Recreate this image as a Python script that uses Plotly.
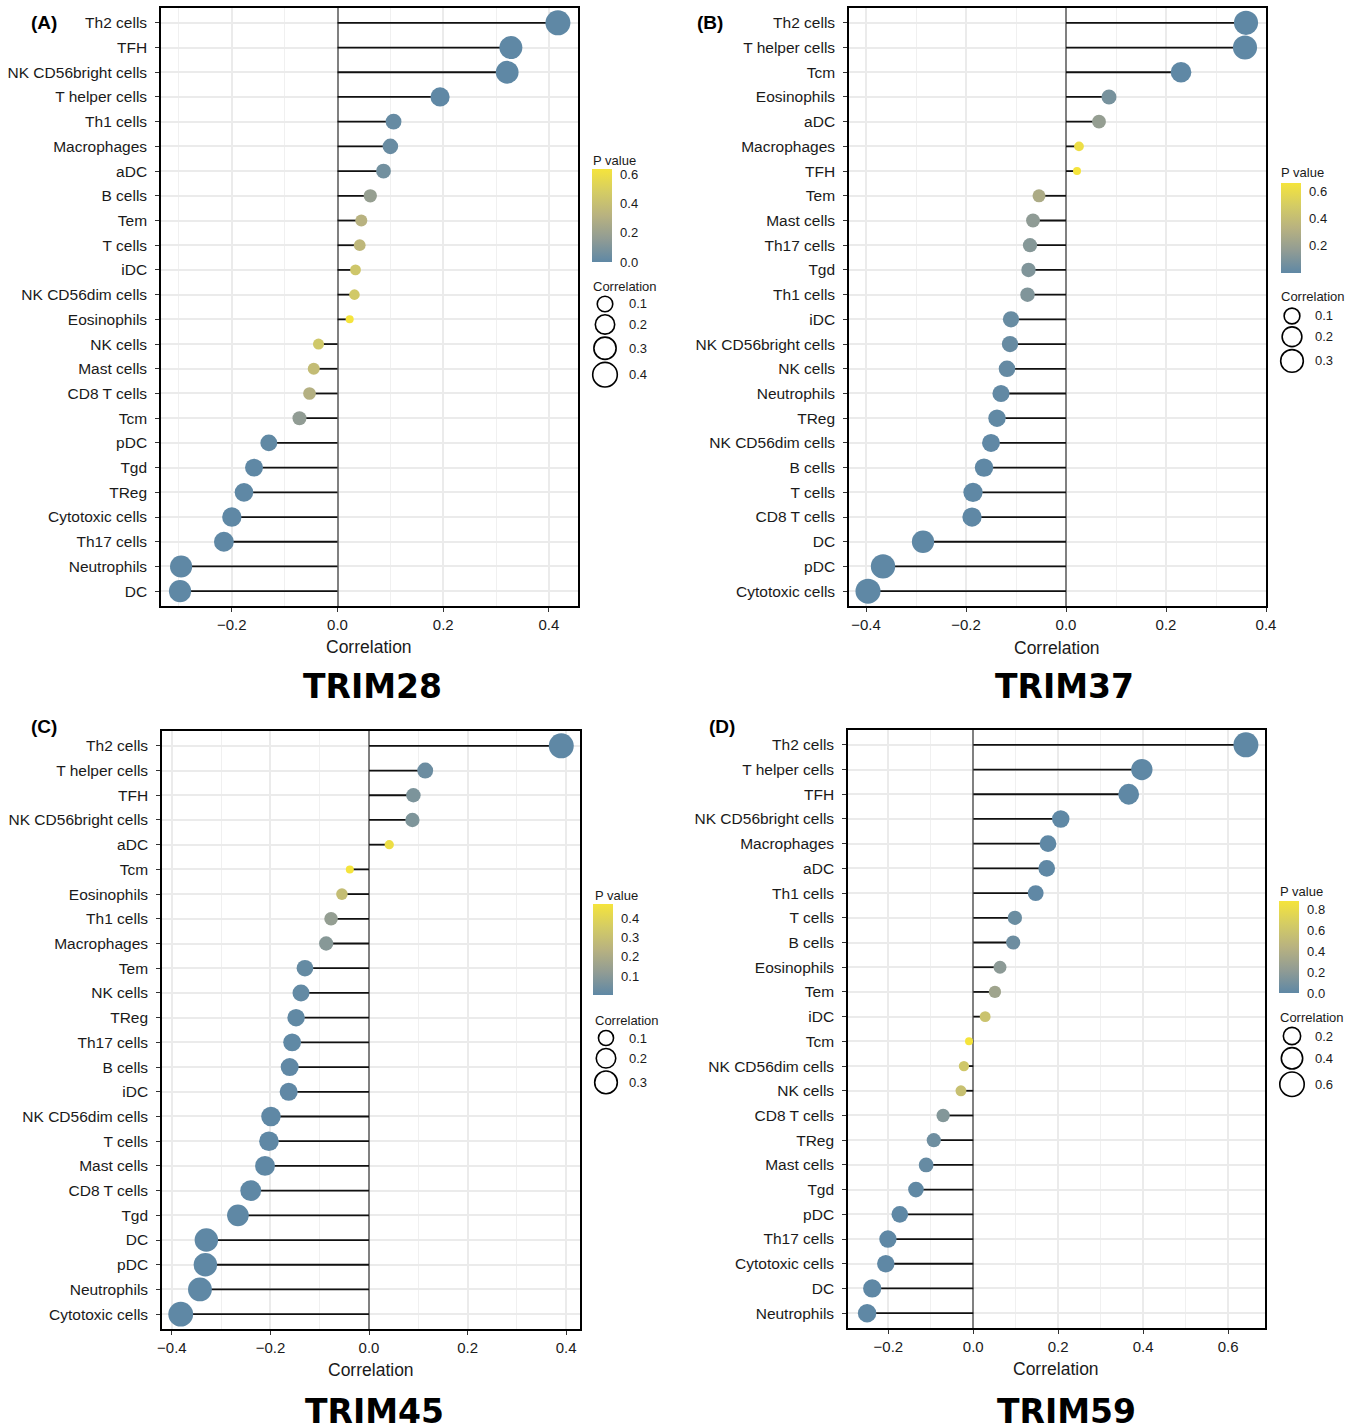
import numpy as np
import plotly.graph_objects as go

W, H = 1354, 1427

# ---------------- data ----------------
genes = ["TRIM28", "TRIM37", "TRIM45", "TRIM59"]
letters = ["(A)", "(B)", "(C)", "(D)"]

cells_A = ["Th2 cells", "TFH", "NK CD56bright cells", "T helper cells", "Th1 cells", "Macrophages",
           "aDC", "B cells", "Tem", "T cells", "iDC", "NK CD56dim cells", "Eosinophils", "NK cells",
           "Mast cells", "CD8 T cells", "Tcm", "pDC", "Tgd", "TReg", "Cytotoxic cells", "Th17 cells",
           "Neutrophils", "DC"]
cor_A = [0.417, 0.328, 0.321, 0.194, 0.106, 0.100, 0.087, 0.062, 0.045, 0.042, 0.034, 0.032, 0.023,
         -0.036, -0.045, -0.053, -0.072, -0.130, -0.158, -0.177, -0.200, -0.215, -0.296, -0.298]
p_A = [0.0, 0.0, 0.0, 0.0, 0.022, 0.031, 0.060, 0.180, 0.320, 0.350, 0.440, 0.460, 0.635,
       0.450, 0.380, 0.300, 0.160, 0.005, 0.001, 0.0, 0.0, 0.0, 0.0, 0.0]

cells_B = ["Th2 cells", "T helper cells", "Tcm", "Eosinophils", "aDC", "Macrophages", "TFH", "Tem",
           "Mast cells", "Th17 cells", "Tgd", "Th1 cells", "iDC", "NK CD56bright cells", "NK cells",
           "Neutrophils", "TReg", "NK CD56dim cells", "B cells", "T cells", "CD8 T cells", "DC", "pDC",
           "Cytotoxic cells"]
cor_B = [0.360, 0.358, 0.230, 0.086, 0.066, 0.026, 0.022, -0.054, -0.066, -0.072, -0.075, -0.077,
         -0.110, -0.112, -0.118, -0.130, -0.138, -0.150, -0.164, -0.186, -0.188, -0.286, -0.366, -0.396]
p_B = [0.0, 0.0, 0.0, 0.080, 0.180, 0.620, 0.660, 0.280, 0.160, 0.130, 0.110, 0.110,
       0.030, 0.025, 0.020, 0.010, 0.005, 0.002, 0.001, 0.0, 0.0, 0.0, 0.0, 0.0]

cells_C = ["Th2 cells", "T helper cells", "TFH", "NK CD56bright cells", "aDC", "Tcm", "Eosinophils",
           "Th1 cells", "Macrophages", "Tem", "NK cells", "TReg", "Th17 cells", "B cells", "iDC",
           "NK CD56dim cells", "T cells", "Mast cells", "CD8 T cells", "Tgd", "DC", "pDC", "Neutrophils",
           "Cytotoxic cells"]
cor_C = [0.390, 0.114, 0.090, 0.088, 0.041, -0.039, -0.055, -0.077, -0.087, -0.130, -0.138, -0.148,
         -0.156, -0.161, -0.163, -0.199, -0.203, -0.211, -0.240, -0.266, -0.330, -0.332, -0.343, -0.382]
p_C = [0.0, 0.030, 0.070, 0.075, 0.450, 0.478, 0.290, 0.130, 0.095, 0.015, 0.010, 0.005,
       0.003, 0.002, 0.002, 0.0, 0.0, 0.0, 0.0, 0.0, 0.0, 0.0, 0.0, 0.0]

cells_D = ["Th2 cells", "T helper cells", "TFH", "NK CD56bright cells", "Macrophages", "aDC", "Th1 cells",
           "T cells", "B cells", "Eosinophils", "Tem", "iDC", "Tcm", "NK CD56dim cells", "NK cells",
           "CD8 T cells", "TReg", "Mast cells", "Tgd", "pDC", "Th17 cells", "Cytotoxic cells", "DC",
           "Neutrophils"]
cor_D = [0.642, 0.397, 0.366, 0.206, 0.176, 0.173, 0.147, 0.098, 0.094, 0.063, 0.051, 0.028, -0.010,
         -0.022, -0.029, -0.071, -0.093, -0.111, -0.135, -0.173, -0.201, -0.206, -0.238, -0.250]
p_D = [0.0, 0.0, 0.0, 0.0, 0.0, 0.0, 0.003, 0.050, 0.060, 0.200, 0.300, 0.580, 0.880,
       0.620, 0.560, 0.160, 0.065, 0.030, 0.008, 0.001, 0.0, 0.0, 0.0, 0.0]

pval_ticks = [[0.0, 0.2, 0.4, 0.6], [0.2, 0.4, 0.6], [0.1, 0.2, 0.3, 0.4], [0.0, 0.2, 0.4, 0.6, 0.8]]
size_breaks = [[0.1, 0.2, 0.3, 0.4], [0.1, 0.2, 0.3], [0.1, 0.2, 0.3], [0.2, 0.4, 0.6]]
x_ticks = [[-0.2, 0.0, 0.2, 0.4], [-0.4, -0.2, 0.0, 0.2, 0.4], [-0.4, -0.2, 0.0, 0.2, 0.4],
           [-0.2, 0.0, 0.2, 0.4, 0.6]]

panels = [(cells_A, cor_A, p_A), (cells_B, cor_B, p_B), (cells_C, cor_C, p_C), (cells_D, cor_D, p_D)]

# ---------------- layout geometry (pixels) ----------------
boxes = [(161, 578, 8, 606), (849, 1266, 8, 606), (162, 580, 731, 1329), (848, 1265, 730, 1328)]
xranges = [[-0.334, 0.455], [-0.434, 0.400], [-0.420, 0.428], [-0.295, 0.687]]
cbars = [(592, 169, 93), (1281, 183, 90), (593, 904, 91), (1279, 901, 92)]
ptitle = [(591, 160), (1279, 173), (593, 895), (1278, 892)]
stitle = [(591, 286), (1279, 297), (593, 1020), (1278, 1017)]
scirc = [(605, 304, 627), (1292, 316, 1313), (606, 1038, 627), (1292, 1036, 1313)]
letter_pos = [(44, 22), (710, 22), (44, 726), (722, 726)]
gene_pos = [(372, 686), (1064, 686), (374, 1411), (1066, 1411)]
axt_pos = [(369, 647), (1057, 648), (371, 1370), (1056, 1369)]

COLORSCALE = [[0.0, "#5f88a5"], [0.25, "#919c94"], [0.5, "#b8b280"], [0.75, "#d4cc64"], [1.0, "#f5e43c"]]
FONT = "Liberation Sans, Arial, sans-serif"
TXT = "#1a1a1a"
D0, D1 = 8.0, 25.0


def px(x):
    return x / W


def py(y):
    return 1 - y / H


def size_scale(v, lo, hi):
    v = np.clip((np.abs(np.asarray(v, dtype=float)) - lo) / (hi - lo), 0, 1)
    return D0 + (D1 - D0) * np.sqrt(v)


fig = go.Figure()
layout = dict(width=W, height=H, margin=dict(l=0, r=0, t=0, b=0, pad=0, autoexpand=False), autosize=False,
              paper_bgcolor="white", plot_bgcolor="white", showlegend=False,
              font=dict(family=FONT, color=TXT))
annotations = []
shapes = []

for i, (cells, cor, pv) in enumerate(panels):
    k = "" if i == 0 else str(i + 1)
    xa, ya, ca = "x" + k, "y" + k, "coloraxis" + k
    absc = np.abs(cor)
    lo, hi = absc.min(), absc.max()
    # stems
    sx, sy = [], []
    for c, v in zip(cells, cor):
        sx += [0, v, None]
        sy += [c, c, None]
    fig.add_trace(go.Scatter(x=sx, y=sy, mode="lines", xaxis=xa, yaxis=ya,
                             line=dict(color="#111111", width=1.8), hoverinfo="skip"))
    # dots
    fig.add_trace(go.Scatter(x=cor, y=cells, mode="markers", xaxis=xa, yaxis=ya,
                             marker=dict(size=size_scale(cor, lo, hi), color=pv, coloraxis=ca,
                                         line=dict(width=0), opacity=1)))
    bx0, bx1, by0, by1 = boxes[i]
    n = len(cells)
    layout["xaxis" + k] = dict(
        domain=[px(bx0), px(bx1)], anchor=ya, range=xranges[i], tickvals=x_ticks[i], automargin=False,
        tickformat=".1f", ticks="outside", ticklen=4, tickwidth=1.3, tickcolor="#333",
        tickfont=dict(size=15, color=TXT), showgrid=True, gridcolor="#ebebeb", gridwidth=1.8,
        minor=dict(dtick=0.1, tick0=0, showgrid=True, gridcolor="#f0f0f0", gridwidth=1.0, ticks=""),
        zeroline=True, zerolinecolor="#808080", zerolinewidth=1.6,
        showline=True, mirror=True, linecolor="black", linewidth=1.6, fixedrange=True)
    layout["yaxis" + k] = dict(
        domain=[py(by1), py(by0)], anchor=xa, type="category", categoryorder="array", automargin=False,
        categoryarray=list(reversed(cells)), range=[-0.6, n - 0.4], ticks="outside", ticklen=4,
        tickwidth=1.3, tickcolor="#333", tickfont=dict(size=15.5, color=TXT), ticklabelstandoff=5,
        showgrid=True, gridcolor="#ebebeb", gridwidth=1.8, zeroline=False, showline=True, mirror=True,
        linecolor="black", linewidth=1.6, fixedrange=True)
    cx, cy, cl = cbars[i]
    layout[ca] = dict(
        cmin=0, cmax=max(pv), colorscale=COLORSCALE,
        colorbar=dict(x=px(cx), xanchor="left", y=py(cy), yanchor="top", len=cl, lenmode="pixels",
                      thickness=20, thicknessmode="pixels", xpad=0, ypad=0, outlinewidth=0,
                      tickvals=pval_ticks[i], tickformat=".1f", ticks="outside", ticklen=6,
                      tickcolor="rgba(0,0,0,0)", tickwidth=1, tickfont=dict(size=13, color=TXT)))
    # colorbar inner white tick marks
    span = max(pv)
    for tv in pval_ticks[i]:
        yy = cy + cl * (1 - tv / span)
        for (a, b) in [(cx, cx + 4), (cx + 16, cx + 20)]:
            shapes.append(dict(type="line", xref="paper", yref="paper", x0=px(a), x1=px(b),
                               y0=py(yy), y1=py(yy), line=dict(color="white", width=1)))
    # text
    annotations.append(dict(text="<b>" + letters[i] + "</b>", x=px(letter_pos[i][0]), y=py(letter_pos[i][1]),
                            xref="paper", yref="paper", showarrow=False, xanchor="center", yanchor="middle",
                            font=dict(size=19, color="black", family=FONT)))
    annotations.append(dict(text="<b>" + genes[i] + "</b>", x=px(gene_pos[i][0]), y=py(gene_pos[i][1]),
                            xref="paper", yref="paper", showarrow=False, xanchor="center", yanchor="middle",
                            font=dict(size=33, color="black", family="DejaVu Sans, sans-serif")))
    annotations.append(dict(text="Correlation", x=px(axt_pos[i][0]), y=py(axt_pos[i][1]),
                            xref="paper", yref="paper", showarrow=False, xanchor="center", yanchor="middle",
                            font=dict(size=17.5, color=TXT)))
    annotations.append(dict(text="P value", x=px(ptitle[i][0]), y=py(ptitle[i][1]), xref="paper",
                            yref="paper", showarrow=False, xanchor="left", yanchor="middle",
                            font=dict(size=13, color=TXT)))
    annotations.append(dict(text="Correlation", x=px(stitle[i][0]), y=py(stitle[i][1]), xref="paper",
                            yref="paper", showarrow=False, xanchor="left", yanchor="middle",
                            font=dict(size=13, color=TXT)))
    # size legend
    ds = size_scale(size_breaks[i], lo, hi)
    ccx, ccy, lx = scirc[i]
    yc = ccy
    for j, (b, d) in enumerate(zip(size_breaks[i], ds)):
        if j > 0:
            yc += (ds[j - 1] + d) / 2 + 3
        r = d / 2
        shapes.append(dict(type="circle", xref="paper", yref="paper", xsizemode="pixel",
                           ysizemode="pixel", xanchor=px(ccx), yanchor=py(yc), x0=-r, x1=r, y0=-r, y1=r,
                           line=dict(color="black", width=1.6), fillcolor="white"))
        annotations.append(dict(text=f"{b:.1f}", x=px(lx), y=py(yc), xref="paper", yref="paper",
                                showarrow=False, xanchor="left", yanchor="middle",
                                font=dict(size=13, color=TXT)))

layout["annotations"] = annotations
layout["shapes"] = shapes
fig.update_layout(**layout)
fig.write_html("out.html",
               config={"displayModeBar": False, "responsive": False},
               post_script=("document.documentElement.style.margin='0px';"
                            "document.documentElement.style.overflow='hidden';"
                            "document.body.style.margin='0px';document.body.style.padding='0px';"
                            "document.body.style.overflow='hidden';"))
